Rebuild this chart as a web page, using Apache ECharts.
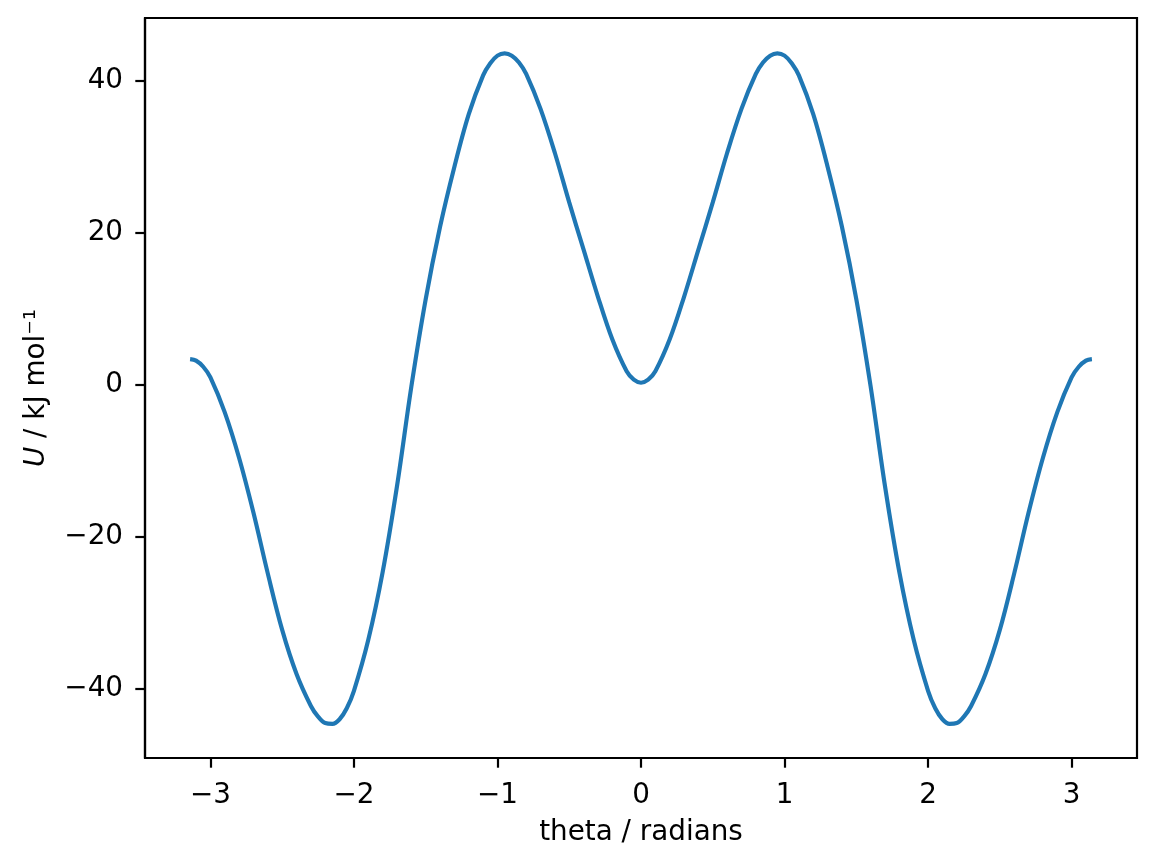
<!DOCTYPE html>
<html>
<head>
<meta charset="utf-8">
<script src="https://cdn.jsdelivr.net/npm/echarts@6/dist/echarts.min.js"></script>
<style>
html,body{margin:0;padding:0;background:#fff;}
#c{width:1157px;height:865px;}
</style>
</head>
<body>
<div id="c"></div>
<script>
// theta / radians
var theta = [
  -3.1416, -3.1, -3.05, -3.0, -2.9, -2.8, -2.7, -2.6, -2.5, -2.4,
  -2.3, -2.25, -2.2, -2.15, -2.1, -2.05, -2.0, -1.9, -1.8, -1.7,
  -1.6, -1.5, -1.4, -1.3, -1.2, -1.1, -1.05, -1.0, -0.95, -0.9,
  -0.85, -0.8, -0.7, -0.6, -0.5, -0.4, -0.3, -0.2, -0.1, -0.05, 0,
  0.05, 0.1, 0.2, 0.3, 0.4, 0.5, 0.6, 0.7, 0.8, 0.85,
  0.9, 0.95, 1.0, 1.05, 1.1, 1.2, 1.3, 1.4, 1.5, 1.6,
  1.7, 1.8, 1.9, 2.0, 2.05, 2.1, 2.15, 2.2, 2.25, 2.3,
  2.4, 2.5, 2.6, 2.7, 2.8, 2.9, 3.0, 3.05, 3.1, 3.1416
];
// U / kJ mol^-1
var energy = [
  3.4, 3.2, 2.4, 1.0, -3.6, -9.6, -16.8, -24.8, -32.2, -38.0,
  -42.2, -43.6, -44.45, -44.55, -43.95, -42.5, -40.2, -33.5, -24.6, -13.3,
  -0.2, 11.3, 20.8, 28.7, 35.6, 40.7, 42.3, 43.3, 43.6, 43.3,
  42.4, 40.9, 36.3, 30.5, 24.0, 17.8, 11.6, 6.0, 1.8, 0.7, 0.3,
  0.7, 1.8, 6.0, 11.6, 17.8, 24.0, 30.5, 36.3, 40.9, 42.4,
  43.3, 43.6, 43.3, 42.3, 40.7, 35.6, 28.7, 20.8, 11.3, -0.2,
  -13.3, -24.6, -33.5, -40.2, -42.5, -43.95, -44.55, -44.45, -43.6, -42.2,
  -38.0, -32.2, -24.8, -16.8, -9.6, -3.6, 1.0, 2.4, 3.2, 3.4
];
var xTicks = [-3, -2, -1, 0, 1, 2, 3];
var yTicks = [-40, -20, 0, 20, 40];
var xRange = [-3.4558, 3.4558];
var yRange = [-49.04, 48.25];

function fmt(v) { return v < 0 ? '\u2212' + Math.abs(v) : String(v); }

var pts = theta.map(function (t, i) { return [t, energy[i]]; });
var FONT = 'DejaVu Sans';
var FS = 27.8;
var chart = echarts.init(document.getElementById('c'));
chart.setOption({
  backgroundColor: '#fff',
  animation: false,
  grid: {
    left: 145, right: 20, top: 18, bottom: 107,
    show: true, borderColor: '#000', borderWidth: 2.2, backgroundColor: 'transparent'
  },
  xAxis: {
    type: 'value', min: xRange[0], max: xRange[1],
    axisLine: { show: true, onZero: false, lineStyle: { color: '#000', width: 2.2 } },
    splitLine: { show: false },
    axisTick: { show: true, customValues: xTicks, length: 9.7, lineStyle: { color: '#000', width: 2.2 } },
    axisLabel: { customValues: xTicks, formatter: fmt, color: '#000', fontFamily: FONT, fontSize: FS, margin: 24 },
    name: 'theta / radians', nameLocation: 'middle', nameGap: 61,
    nameTextStyle: { color: '#000', fontFamily: FONT, fontSize: FS }
  },
  yAxis: {
    type: 'value', min: yRange[0], max: yRange[1],
    axisLine: { show: true, onZero: false, lineStyle: { color: '#000', width: 2.2 } },
    splitLine: { show: false },
    axisTick: { show: true, customValues: yTicks, length: 9.7, lineStyle: { color: '#000', width: 2.2 } },
    axisLabel: { customValues: yTicks, formatter: fmt, color: '#000', fontFamily: FONT, fontSize: FS, margin: 22 },
    name: '{i|U} / kJ mol\u207B\u00B9', nameLocation: 'middle', nameGap: 94,
    nameTextStyle: { color: '#000', fontFamily: FONT, fontSize: FS,
      rich: { i: { fontStyle: 'italic', fontFamily: FONT, fontSize: FS, color: '#000' } } }
  },
  series: [{
    type: 'line', data: pts, showSymbol: false, smooth: 0.35,
    lineStyle: { color: '#1f77b4', width: 4.17 },
    itemStyle: { color: '#1f77b4' }
  }]
});
</script>
</body>
</html>
